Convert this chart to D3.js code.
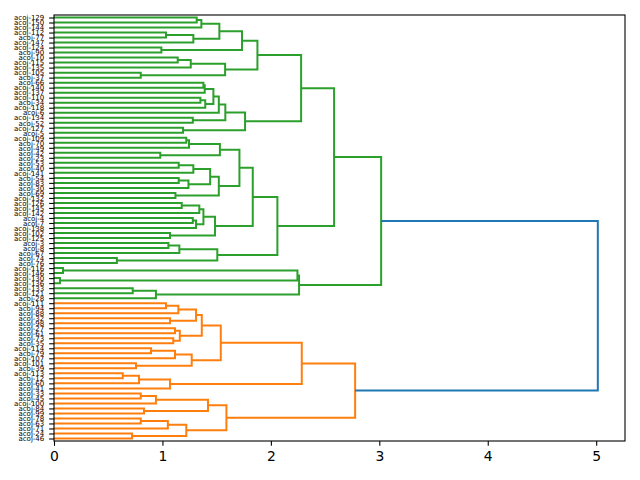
<!DOCTYPE html>
<html>
<head>
<meta charset="utf-8">
<script src="https://cdn.jsdelivr.net/npm/d3@7"></script>
<style>
  body { margin: 0; background: #fff; }
  svg text { font-family: "DejaVu Sans", sans-serif; }
</style>
</head>
<body>
<svg id="chart" width="640" height="480"></svg>
<script>
// leaves, listed from top to bottom of the plot
const leafLabels = [
  "acoj-129", "acoj-150", "acoj-144", "acoj-112", "acoj-77", "acoj-147", "acoj-124", "acoj-90",
  "acoj-10", "acoj-115", "acoj-135", "acoj-105", "acoj-37", "acoj-66", "acoj-140", "acoj-137",
  "acoj-110", "acoj-34", "acoj-118", "acoj-6", "acoj-134", "acoj-52", "acoj-127", "acoj-5",
  "acoj-109", "acoj-70", "acoj-49", "acoj-42", "acoj-23", "acoj-53", "acoj-40", "acoj-141",
  "acoj-54", "acoj-83", "acoj-30", "acoj-69", "acoj-132", "acoj-126", "acoj-145", "acoj-142",
  "acoj-4", "acoj-7", "acoj-138", "acoj-102", "acoj-125", "acoj-3", "acoj-8", "acoj-67",
  "acoj-74", "acoj-76", "acoj-116", "acoj-146", "acoj-130", "acoj-136", "acoj-133", "acoj-121",
  "acoj-28", "acoj-111", "acoj-94", "acoj-88", "acoj-32", "acoj-98", "acoj-27", "acoj-61",
  "acoj-73", "acoj-35", "acoj-114", "acoj-79", "acoj-107", "acoj-101", "acoj-39", "acoj-113",
  "acoj-12", "acoj-60", "acoj-41", "acoj-33", "acoj-45", "acoj-100", "acoj-84", "acoj-99",
  "acoj-78", "acoj-63", "acoj-71", "acoj-24", "acoj-46"
];

// linkage: [child a, child b, distance]; ids < 85 are leaves, merge k gets id 85 + k
const merges = [
  [0, 1, 1.316], [85, 2, 1.359], [3, 4, 1.033], [87, 5, 1.285], [86, 88, 1.525],
  [6, 7, 0.99], [89, 90, 1.734], [8, 9, 1.141], [92, 10, 1.261], [11, 12, 0.80],
  [93, 94, 1.578], [91, 95, 1.876],
  [13, 14, 1.378], [97, 15, 1.39], [16, 17, 1.35], [99, 18, 1.395], [98, 100, 1.47],
  [101, 19, 1.52], [20, 21, 1.28], [102, 103, 1.58], [22, 23, 1.19], [104, 105, 1.762],
  [96, 106, 2.279],
  [24, 25, 1.22], [108, 26, 1.245], [27, 28, 0.98], [109, 110, 1.53], [29, 30, 1.15],
  [112, 31, 1.285], [32, 33, 1.15], [114, 34, 1.24], [113, 115, 1.44], [35, 36, 1.12],
  [116, 117, 1.52], [111, 118, 1.71],
  [37, 38, 1.178], [120, 39, 1.34], [40, 41, 1.28], [122, 42, 1.31], [121, 123, 1.378],
  [43, 44, 1.07], [124, 125, 1.485], [119, 126, 1.833],
  [45, 46, 1.055], [128, 47, 1.156], [48, 49, 0.58], [129, 130, 1.506], [127, 131, 2.06],
  [107, 132, 2.583],
  [50, 51, 0.083], [52, 53, 0.055], [134, 135, 2.245], [54, 55, 0.726], [137, 56, 0.94],
  [136, 138, 2.26], [133, 139, 3.017],
  [57, 58, 1.033], [141, 59, 1.147], [60, 61, 1.07], [142, 143, 1.31], [62, 63, 1.116],
  [64, 65, 1.10], [145, 146, 1.16], [144, 147, 1.363], [66, 67, 0.895], [149, 68, 1.116],
  [69, 70, 0.756], [150, 151, 1.27], [148, 152, 1.538],
  [71, 72, 0.634], [154, 73, 0.784], [155, 74, 1.07], [153, 156, 2.285],
  [75, 76, 0.80], [158, 77, 0.94], [78, 79, 0.83], [159, 160, 1.42], [80, 81, 0.80],
  [162, 82, 1.05], [83, 84, 0.72], [163, 164, 1.22], [161, 165, 1.59], [157, 166, 2.777],
  [140, 167, 5.015]
];

const clusterPalette = ["#ff7f0e", "#2ca02c", "#d62728", "#9467bd"];
const aboveColor = "#1f77b4";
const xTicks = [0, 1, 2, 3, 4, 5];

const width = 640, height = 480;
const margin = {top: 15, right: 15, bottom: 39, left: 54};
const n = leafLabels.length;
const svg = d3.select("#chart");

// node table: leaves then merges
const nodes = leafLabels.map((label, i) => ({pos: i, h: 0}));
const parentOf = {};
merges.forEach((m, k) => {
  const id = n + k;
  nodes.push({id: id, pos: (nodes[m[0]].pos + nodes[m[1]].pos) / 2, h: m[2], a: m[0], b: m[1]});
  parentOf[m[0]] = id;
  parentOf[m[1]] = id;
});

const maxH = d3.max(merges, d => d[2]);
const threshold = 0.7 * maxH;

// cluster roots: highest merge below threshold
const clusterRoot = id => {
  let cur = id;
  while (parentOf[cur] !== undefined && nodes[parentOf[cur]].h < threshold) cur = parentOf[cur];
  return cur;
};
const roots = [];
nodes.forEach((d, id) => {
  if (id >= n && d.h < threshold && clusterRoot(id) === id) roots.push(id);
});
roots.sort((p, q) => nodes[q].pos - nodes[p].pos); // bottom first
const rootColor = {};
roots.forEach((id, i) => { rootColor[id] = clusterPalette[i % clusterPalette.length]; });

const x = d3.scaleLinear()
  .domain([0, maxH * 1.05])
  .range([margin.left, width - margin.right]);
const y = d3.scaleLinear()
  .domain([-0.5, n - 0.5])
  .range([margin.top, height - margin.bottom]);

// links
svg.append("g")
  .selectAll("path")
  .data(nodes.slice(n))
  .join("path")
  .attr("d", d => {
    const A = nodes[d.a], B = nodes[d.b];
    return "M" + x(A.h) + "," + y(A.pos) + "H" + x(d.h) + "V" + y(B.pos) + "H" + x(B.h);
  })
  .attr("fill", "none")
  .attr("stroke", d => d.h < threshold ? rootColor[clusterRoot(d.id)] : aboveColor)
  .attr("stroke-width", 2);

// axes
const yAxis = d3.axisLeft(y)
  .tickValues(d3.range(n))
  .tickFormat(i => leafLabels[i])
  .tickSize(4.86)
  .tickPadding(4.86);
const gy = svg.append("g")
  .attr("transform", "translate(" + margin.left + ",0)")
  .call(yAxis);
gy.select(".domain").remove();
gy.selectAll(".tick line").attr("stroke", "#000").attr("stroke-width", 1.1);
gy.selectAll(".tick text").attr("fill", "#000").style("font-size", "7px");

const xAxis = d3.axisBottom(x)
  .tickValues(xTicks)
  .tickFormat(d3.format("d"))
  .tickSize(4.86)
  .tickPadding(4.86);
const gx = svg.append("g")
  .attr("transform", "translate(0," + (height - margin.bottom) + ")")
  .call(xAxis);
gx.select(".domain").remove();
gx.selectAll(".tick line").attr("stroke", "#000").attr("stroke-width", 1.1);
gx.selectAll(".tick text").attr("fill", "#000").style("font-size", "13.9px");

// frame
svg.append("rect")
  .attr("x", margin.left)
  .attr("y", margin.top)
  .attr("width", width - margin.left - margin.right)
  .attr("height", height - margin.top - margin.bottom)
  .attr("fill", "none")
  .attr("stroke", "#000")
  .attr("stroke-width", 1.1);
</script>
</body>
</html>
